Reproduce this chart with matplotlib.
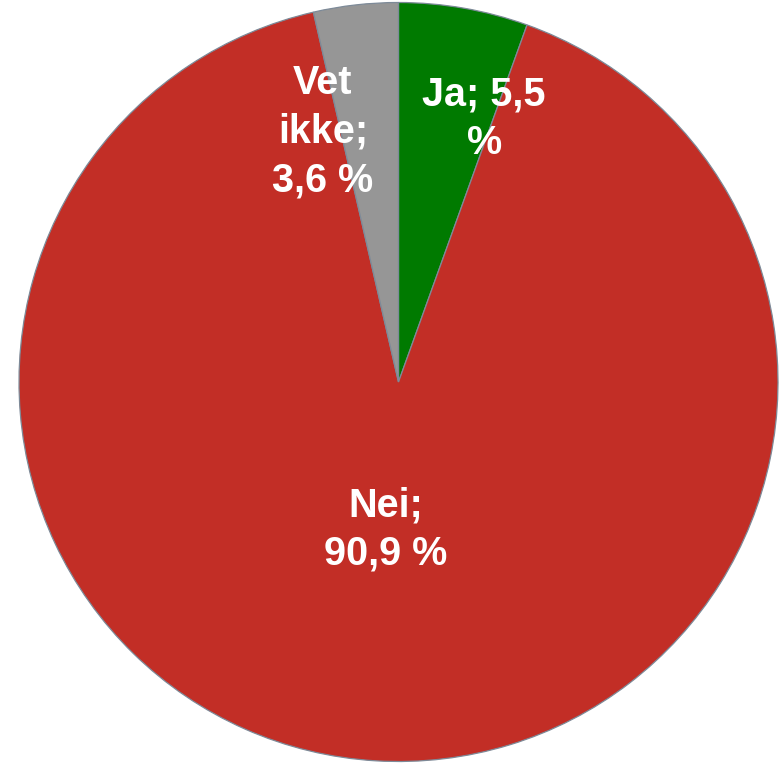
import matplotlib
matplotlib.use("Agg")
import matplotlib.pyplot as plt
import numpy as np

categories = ["Ja", "Nei", "Vet ikke"]
values = [5.5, 90.9, 3.6]
label_texts = ["Ja; 5,5\n%", "Nei;\n90,9 %", "Vet\nikke;\n3,6 %"]
colors = ["#007A00", "#C22E26", "#969696"]

# label placement (radius fraction, angle in degrees)
label_pos = [(0.73, 72.0), (0.39, 265.0), (0.69, 106.8)]

fig = plt.figure(figsize=(7.81, 7.64), dpi=100)
ax = fig.add_axes([0, 0, 1, 1])
ax.pie(values, colors=colors, startangle=90, counterclock=False,
       radius=1.0, center=(0, 0),
       wedgeprops=dict(edgecolor="#7D8A98", linewidth=0.9))
ax.set_aspect("auto")
ax.set_xlim(-398.5 / 379.5, (781 - 398.5) / 379.5)
ax.set_ylim((382 - 764) / 379.5, 382 / 379.5)
ax.axis("off")

for txt, (r, ang) in zip(label_texts, label_pos):
    a = np.deg2rad(ang)
    ax.text(r * np.cos(a), r * np.sin(a), txt, ha="center", va="center",
            color="white", fontsize=28.5, fontweight="bold",
            family=["Liberation Sans", "DejaVu Sans"], linespacing=1.36)

fig.savefig("out.png", dpi=100)
